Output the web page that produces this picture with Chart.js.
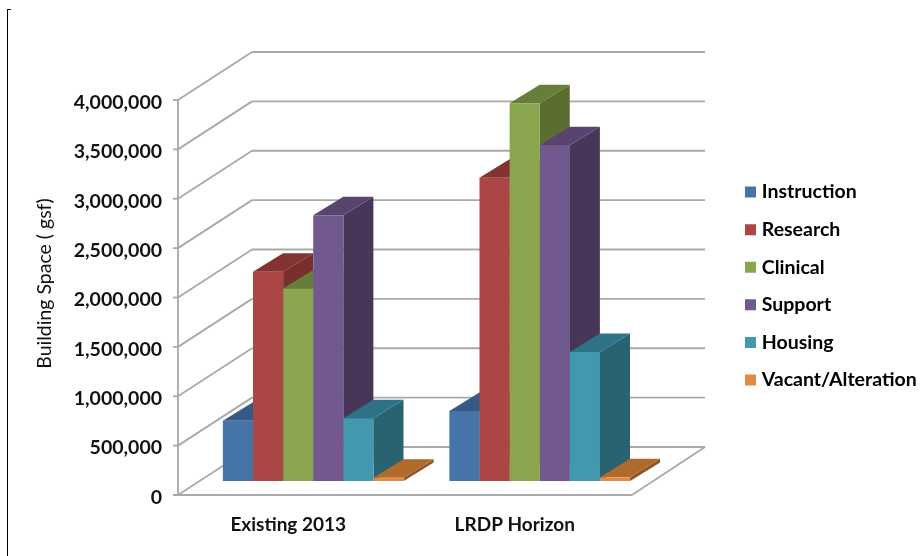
<!DOCTYPE html>
<html>
<head>
<meta charset="utf-8">
<title>Building Space</title>
<script src="https://cdn.jsdelivr.net/npm/chart.js"></script>
<style>
  html, body { margin: 0; padding: 0; background: #fff; }
  #wrap { position: relative; width: 920px; height: 556px; overflow: hidden; }
  #myChart { filter: blur(0.5px); }
  #edge { position: absolute; left: 7px; top: 9px; width: 3px; height: 547px; border-left: 1px solid #000; border-top: 1px solid #000; }
</style>
</head>
<body>
<div id="wrap">
  <div id="edge"></div>
  <canvas id="myChart" width="920" height="556"></canvas>
</div>
<script>
var categories = ['Existing 2013', 'LRDP Horizon'];
var seriesNames = ['Instruction', 'Research', 'Clinical', 'Support', 'Housing', 'Vacant/Alteration'];

var instruction = [611000, 710000];
var research = [2120000, 3070000];
var clinical = [1950000, 3825000];
var support = [2690000, 3400000];
var housing = [635000, 1306000];
var vacant = [33000, 37000];
var seriesValues = [instruction, research, clinical, support, housing, vacant];

var frontColors = ['#4674a8', '#aa4643', '#89a54e', '#71588f', '#4198af', '#e08a44'];
var topColors = ['#345a85', '#833331', '#667e3a', '#59446f', '#2f7286', '#b06a2b'];
var sideColors = ['#2f5078', '#7b2f2d', '#596e30', '#483658', '#296372', '#8f5522'];

var boldFont = 'Lato, sans-serif';

// 3d look: walls, floor and bar depth, everything hangs off the real scales
var walls3d = {
  id: 'walls3d',
  beforeDatasetsDraw: function(chart) {
    var ctx = chart.ctx;
    var area = chart.chartArea;
    var yScale = chart.scales.y;
    var line = function(x1, y1, x2, y2) {
      ctx.beginPath();
      ctx.moveTo(x1, y1);
      ctx.lineTo(x2, y2);
      ctx.stroke();
    };
    var poly = function(color, pts) {
      ctx.fillStyle = color;
      ctx.beginPath();
      ctx.moveTo(pts[0], pts[1]);
      for (var p = 2; p < pts.length; p += 2) ctx.lineTo(pts[p], pts[p + 1]);
      ctx.closePath();
      ctx.fill();
    };

    ctx.save();
    ctx.strokeStyle = '#a9a9a9';
    ctx.lineWidth = 1.8;
    var frontX = area.left - 22;
    var backX = area.left + 52;
    yScale.ticks.forEach(function(t) {
      var y = yScale.getPixelForValue(t.value);
      line(frontX - 5, y + 14, frontX, y + 14);
      line(frontX, y + 14, backX, y - 34);
      line(backX, y - 34, area.right + 52, y - 34);
    });
    var y0 = yScale.getPixelForValue(0);
    var yMax = yScale.getPixelForValue(4000000);
    line(frontX, yMax + 14, frontX, y0 + 14);
    line(frontX - 5, y0 + 14, area.right - 21, y0 + 14);
    line(area.right - 21, y0 + 14, area.right + 52, y0 - 34);

    var dx = 30, dy = 18.5;
    chart.data.datasets.forEach(function(ds, i) {
      chart.getDatasetMeta(i).data.forEach(function(bar) {
        var l = bar.x - bar.width / 2;
        var r = bar.x + bar.width / 2;
        poly(sideColors[i], [r, bar.y, r + dx, bar.y - dy, r + dx, bar.base - dy, r, bar.base]);
        poly(topColors[i], [l, bar.y, l + dx, bar.y - dy, r + dx, bar.y - dy, r, bar.y]);
      });
    });
    ctx.restore();
  },
  // legend sits outside the plot, on the right
  beforeDraw: function(chart) {
    var lg = chart.legend;
    var pad = lg.options.labels.padding;
    lg.left = 749 - pad;
    lg.right = 920;
    lg.top = 182.3 - pad;
    lg.bottom = 556;
  }
};

new Chart(document.getElementById('myChart'), {
  type: 'bar',
  data: {
    labels: categories,
    datasets: seriesNames.map(function(name, i) {
      return { label: name, data: seriesValues[i], backgroundColor: frontColors[i], borderWidth: 0 };
    })
  },
  plugins: [walls3d],
  options: {
    responsive: false,
    animation: false,
    devicePixelRatio: 1,
    layout: { padding: { left: 0, top: 86, right: 267, bottom: 0 } },
    datasets: { bar: { categoryPercentage: 0.798, barPercentage: 1 } },
    plugins: {
      tooltip: { enabled: false },
      legend: {
        position: 'chartArea',
        align: 'start',
        labels: {
          color: '#111',
          font: { family: boldFont, size: 19.5, weight: 'bold' },
          boxWidth: 3,
          boxHeight: 3,
          padding: 18.1,
          generateLabels: function() {
            return seriesNames.map(function(name, i) {
              return { text: name, fillStyle: frontColors[i], strokeStyle: frontColors[i], lineWidth: 8, datasetIndex: i };
            });
          }
        }
      }
    },
    scales: {
      x: {
        grid: { display: false },
        border: { display: false },
        afterFit: function(s) { s.height = 75; },
        ticks: {
          color: '#111',
          font: { family: boldFont, size: 19, weight: 'bold' },
          padding: 24,
          labelOffset: -25,
          maxRotation: 0
        }
      },
      y: {
        min: 0,
        max: 4000000,
        grid: { display: false, drawTicks: false },
        border: { display: false },
        afterFit: function(s) { s.width = 200; },
        title: {
          display: true,
          text: 'Building Space ( gsf)',
          color: '#111',
          font: { family: boldFont, size: 19.5, weight: 'normal' },
          padding: { top: 33, bottom: 0 }
        },
        ticks: {
          color: '#111',
          stepSize: 500000,
          padding: 38,
          labelOffset: 16.5,
          font: { family: boldFont, size: 19.5, weight: 'bold' },
          callback: function(v) { return Number(v).toLocaleString('en-US'); }
        }
      }
    }
  }
});
</script>
</body>
</html>
